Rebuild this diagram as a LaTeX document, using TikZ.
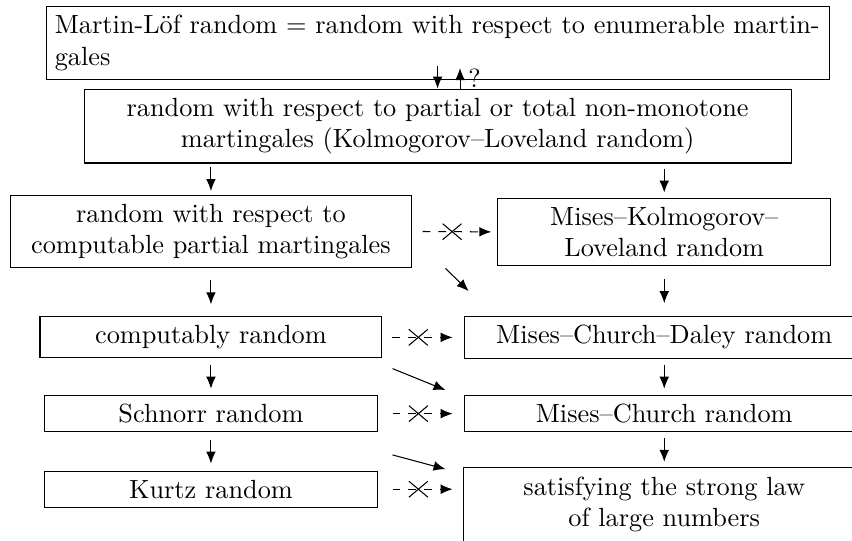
\documentclass[tikz,border=0pt]{standalone}
\usepackage{amsmath}
\usepackage{tikz}
\usetikzlibrary{calc}
\usetikzlibrary{arrows.meta}
\usetikzlibrary{shapes.misc}

\newcommand{\impl}[2]{\draw[arr] ($(#1.south -| #2.north)!0.5!(#2.north)$) ++(0,0.16) -- ++(0,-0.32);}

\begin{document}
\begin{tikzpicture}[
    box/.style={draw, align=center},
    arr/.style={-{Latex[length=1.6mm,width=1.3mm]}},
    xmark/.style={draw, solid, cross out, minimum width=0.24cm, minimum height=0.2cm, inner sep=0pt}
  ]
    \useasboundingbox (0,0) rectangle (11.39,-7.22);
    \clip (0,0) rectangle (11.39,-7.22);

    % top row
    \node[draw, align=left, text width=10.235cm] (ml) at (5.85,-0.575)
        {Martin-Löf random $=$ random with respect to enumerable martin-\\gales};
    \node[box, minimum width=9.45cm] (kl) at (5.85,-1.685)
        {random with respect to partial or total non-monotone\\martingales (Kolmogorov–Loveland random)};

    % left column
    \node[box, minimum width=5.35cm] (cp) at (2.82,-3.095)
        {random with respect to\\computable partial martingales};
    \node[box, minimum width=4.57cm] (cr) at (2.82,-4.51) {computably random};
    \node[box, minimum width=4.45cm] (sr) at (2.82,-5.53) {Schnorr random};
    \node[box, minimum width=4.45cm] (kr) at (2.82,-6.54) {Kurtz random};

    % right column
    \node[box, minimum width=4.45cm] (mkl) at (8.88,-3.10) {Mises–Kolmogorov–\\Loveland random};
    \node[box, minimum width=5.35cm] (mcd) at (8.88,-4.51) {Mises–Church–Daley random};
    \node[box, minimum width=5.35cm] (mc) at (8.88,-5.53) {Mises–Church random};
    \node[box, draw=none, minimum width=5.35cm] (slln) at (8.88,-6.741) {satisfying the strong law\\of large numbers};
    \draw (slln.north west) rectangle ([yshift=-0.2cm]slln.south east);

    % between the two top boxes
    \draw[arr] ([yshift=0.19cm]ml.south) -- (kl.north);
    \draw[arr] ([xshift=0.3cm]kl.north) -- node[right, inner sep=3pt] {?} ([xshift=0.3cm,yshift=0.16cm]ml.south);

    % implications down the columns
    \impl{kl}{cp}
    \impl{cp}{cr}
    \impl{cr}{sr}
    \impl{sr}{kr}
    \impl{kl}{mkl}
    \impl{mkl}{mcd}
    \impl{mcd}{mc}
    \impl{mc}{slln}

    % diagonal implications
    \draw[arr] ([xshift=0.454cm]cp.south east) -- ([shift={(0.067,0.334)}]mcd.north west);
    \draw[arr] ([shift={(0.136,-0.136)}]cr.south east) -- ([shift={(-0.242,0.063)}]mc.north west);
    \draw[arr] ([shift={(0.196,-0.30)}]sr.south east) -- ([shift={(-0.242,-0.026)}]slln.north west);

    % non-implications
    \draw[arr, dashed] ([xshift=0.147cm]cp.east) -- node[pos=0.43, xmark] {} ([xshift=-0.08cm]mkl.west);
    \draw[arr, dashed] ([xshift=0.134cm]cr.east) -- node[pos=0.43, xmark] {} ([xshift=-0.147cm]mcd.west);
    \draw[arr, dashed] ([xshift=0.196cm]sr.east) -- node[pos=0.43, xmark] {} ([xshift=-0.147cm]mc.west);
    \draw[arr, dashed] ([xshift=0.196cm]kr.east) -- node[pos=0.43, xmark] {} ([xshift=-0.147cm]kr.east -| slln.west);
\end{tikzpicture}
\end{document}
